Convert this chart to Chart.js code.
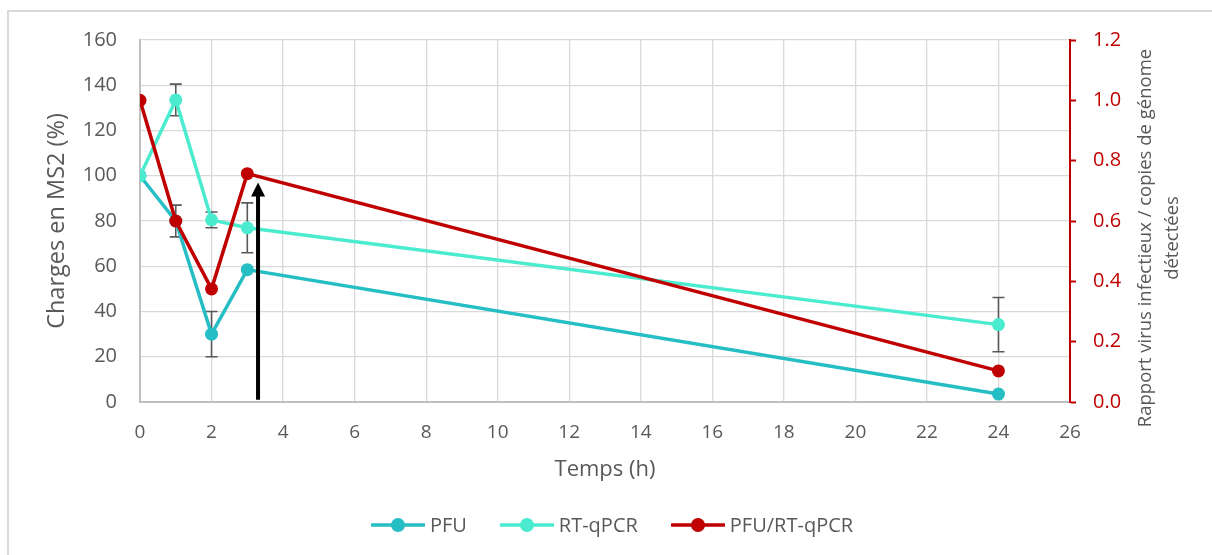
<!DOCTYPE html>
<html>
<head>
<meta charset="utf-8">
<script src="https://cdn.jsdelivr.net/npm/chart.js@4/dist/chart.umd.min.js"></script>
<style>
  html, body { margin:0; padding:0; background:#fff; }
  body { width:1212px; height:555px; position:relative; overflow:hidden; font-family:"Open Sans", sans-serif; }
  #frame { position:absolute; left:7px; top:10px; right:-10px; bottom:-10px; border-left:2px solid #d9d9d9; border-top:2px solid #d9d9d9; }
  #chart { position:absolute; left:0; top:0; }
  #legend { position:absolute; left:6px; width:1212px; top:511px; display:flex; justify-content:center; gap:33px; color:#595959; font-size:20px; }
  #legend .item { display:flex; align-items:center; gap:5px; }
</style>
</head>
<body>
<div id="frame"></div>
<canvas id="chart" width="1212" height="555"></canvas>
<div id="legend"></div>
<script>
// temps (h)
const hours = [0, 1, 2, 3, 24];
// charges en MS2 (%)
const pfu = [100, 80, 30, 58.5, 3.5];
const pfuErr = [0, 7, 10, 0, 0];
const rtqpcr = [100, 133.5, 80.5, 77, 34.2];
const rtErr = [0, 7, 3.5, 11, 12];
// rapport PFU / RT-qPCR
const ratio = [1.0, 0.6, 0.375, 0.757, 0.103];
// flèche
const arrowX = 3.3, arrowFrom = 1, arrowTo = 97;

const colPfu = '#25BEC4', colRt = '#4BEBCF', colRatio = '#C00000';
const grey = '#595959';
const font = '"Open Sans", sans-serif';

const pts = vals => hours.map((h, i) => ({x: h, y: vals[i]}));

const extras = {
  id: 'extras',
  beforeDatasetsDraw(chart) {
    const {ctx, scales: {x, y}} = chart;
    ctx.save();
    ctx.strokeStyle = grey; ctx.lineWidth = 1.6;
    [[pfu, pfuErr], [rtqpcr, rtErr]].forEach(([vals, errs]) => {
      vals.forEach((v, i) => {
        if (!errs[i]) return;
        const px = x.getPixelForValue(hours[i]);
        const top = y.getPixelForValue(v + errs[i]), bot = y.getPixelForValue(v - errs[i]);
        ctx.beginPath();
        ctx.moveTo(px, top); ctx.lineTo(px, bot);
        ctx.moveTo(px - 6, top); ctx.lineTo(px + 6, top);
        ctx.moveTo(px - 6, bot); ctx.lineTo(px + 6, bot);
        ctx.stroke();
      });
    });
    ctx.restore();
  },
  afterDatasetsDraw(chart) {
    const {ctx, scales: {x, y}} = chart;
    const px = x.getPixelForValue(arrowX);
    const y0 = y.getPixelForValue(arrowFrom), y1 = y.getPixelForValue(arrowTo);
    ctx.save();
    ctx.strokeStyle = '#000'; ctx.fillStyle = '#000'; ctx.lineWidth = 4;
    ctx.beginPath(); ctx.moveTo(px, y0); ctx.lineTo(px, y1 + 12); ctx.stroke();
    ctx.beginPath(); ctx.moveTo(px, y1); ctx.lineTo(px - 7, y1 + 14); ctx.lineTo(px + 7, y1 + 14); ctx.closePath(); ctx.fill();
    ctx.restore();
  },
  afterDraw(chart) {
    const {ctx} = chart;
    ctx.save();
    ctx.fillStyle = grey;
    ctx.font = '18.5px ' + font;
    ctx.textAlign = 'center'; ctx.textBaseline = 'middle';
    ctx.translate(1146, 238);
    ctx.rotate(-Math.PI / 2);
    ctx.fillText('Rapport virus infectieux / copies de génome', 0, 0);
    ctx.fillText('détectées', 0, 27);
    ctx.restore();
  }
};

new Chart(document.getElementById('chart'), {
  type: 'line',
  data: {
    datasets: [
      {label: 'PFU', data: pts(pfu), yAxisID: 'y', borderColor: colPfu, backgroundColor: colPfu, order: 2},
      {label: 'RT-qPCR', data: pts(rtqpcr), yAxisID: 'y', borderColor: colRt, backgroundColor: colRt, order: 1},
      {label: 'PFU/RT-qPCR', data: pts(ratio), yAxisID: 'y1', borderColor: colRatio, backgroundColor: colRatio, order: 0}
    ]
  },
  options: {
    responsive: false,
    animation: false,
    layout: {padding: {top: 40, left: 0, right: 0, bottom: 0}},
    elements: {
      line: {borderWidth: 3.5, tension: 0},
      point: {radius: 6.5, borderWidth: 0, hoverRadius: 6.5}
    },
    plugins: {legend: {display: false}, tooltip: {enabled: false}},
    scales: {
      x: {
        type: 'linear', min: 0, max: 26,
        afterFit: s => { s.height = 153; },
        ticks: {stepSize: 2, color: grey, font: {family: font, size: 19}, padding: 19},
        grid: {color: '#d9d9d9', lineWidth: 1.3, drawTicks: false},
        border: {color: '#bfbfbf', width: 2},
        title: {display: true, text: 'Temps (h)', color: grey, font: {family: font, size: 22}, padding: {bottom: 72}}
      },
      y: {
        position: 'left', min: 0, max: 160,
        afterFit: s => { s.width = 140; },
        ticks: {stepSize: 20, color: grey, font: {family: font, size: 20}, padding: 23},
        grid: {color: '#d9d9d9', lineWidth: 1.3, drawTicks: false},
        border: {color: '#bfbfbf', width: 2},
        title: {display: true, text: 'Charges en MS2 (%)', color: grey, font: {family: font, size: 23.5}, padding: {top: 43}}
      },
      y1: {
        position: 'right', min: 0, max: 1.2,
        afterFit: s => { s.width = 142; },
        ticks: {stepSize: 0.2, color: colRatio, font: {family: font, size: 20}, padding: 17, callback: v => v.toFixed(1)},
        grid: {drawOnChartArea: false, drawTicks: true, tickLength: 6, tickColor: colRatio, tickWidth: 2},
        border: {color: colRatio, width: 2}
      }
    }
  },
  plugins: [extras]
});

// légende
const legend = document.getElementById('legend');
[['PFU', colPfu], ['RT-qPCR', colRt], ['PFU/RT-qPCR', colRatio]].forEach(([name, c]) => {
  legend.innerHTML += `<div class="item"><svg width="54" height="16"><line x1="1" y1="8" x2="53" y2="8" stroke="${c}" stroke-width="3.5" stroke-linecap="round"/><circle cx="27" cy="8" r="7" fill="${c}"/></svg><span>${name}</span></div>`;
});
</script>
</body>
</html>
